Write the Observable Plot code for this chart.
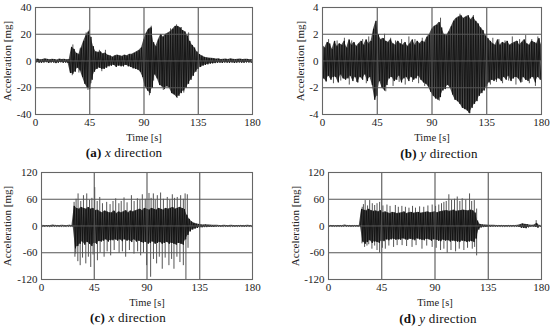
<!DOCTYPE html>
<html>
<head>
<meta charset="utf-8">
<script src="https://cdn.jsdelivr.net/npm/d3@7"></script>
<script src="https://cdn.jsdelivr.net/npm/@observablehq/plot@0.6"></script>
<style>
  html, body { margin: 0; padding: 0; background: #fff; }
  #wrap { position: relative; width: 550px; height: 328px; background: #fff; overflow: hidden; font-family: "Liberation Serif", serif; }
  .panel { position: absolute; width: 275px; height: 145px; }
  .cap { position: absolute; width: 200px; text-align: center; font-size: 13px; line-height: 16px; color: #111; letter-spacing: 0.2px; }
  svg [aria-label="x-axis label"] text, svg [aria-label="x-axis label"] { font-size: 10.5px; }
  svg [aria-label="y-axis label"] text, svg [aria-label="y-axis label"] { font-size: 11px; }
</style>
</head>
<body>
<div id="wrap"></div>
<script>
// ---- data (signed peak amplitudes at 1 s steps, 0..180 s) ----
const xTicks = [0, 45, 90, 135, 180];
const xGrid = [45, 90, 135];
const yTicksA = [-40, -20, 0, 20, 40];
const yTicksB = [-4, -2, 0, 2, 4];
const yTicksCD = [-120, -60, 0, 60, 120];

// (a) x direction
const aVals = [
  1.2,-1.0,1.5,-1.3,0.9,-1.4,1.1,-1.2,1.6,-0.9,
  1.3,-1.5,1.0,-1.2,1.4,-1.1,1.2,-1.6,0.8,-1.3,
  1.5,-1.0,1.1,-1.4,1.3,-1.2,1.0,-1.5,1.2,-9,
  10.5,-9.5,9,-8,6,-5,5,-7,10,-12,
  15,-17,19,-20,22,-21,18,-14,11,-8,
  7,-6,6.5,-5,7,-6,5.5,-6,6,-5,
  4.5,-4,4,-3.5,3,-3,4,-4.5,4.5,-3.5,
  4,-4,3.5,-4,4.5,-3,4,-4,5,-4.5,
  5,-5.5,6,-6,7,-6.5,8,-8,10,-12,
  16,-19,21,-22,24,-24,25,-20,14,-10,
  11,-13,16,-18,20,-19,18,-21,20,-19,
  21,-20,22,-24,24,-25,26,-27,26,-26,
  25,-24,23,-22,22,-20,19,-17,15,-14,
  12,-11,10,-8,7,-6,5,-4.5,4,-3.5,
  3,-3,2.5,-2.5,2.2,-2,2,-1.8,1.8,-1.6,
  1.5,-1.4,1.6,-1.3,1.2,-1.5,1.4,-1.2,1.5,-1.3,
  1.2,-1.4,1.6,-1.2,1.3,-1.5,1.1,-1.3,1.4,-1.2,
  1.5,-1.3,1.2,-1.4,1.3,-1.1,1.4,-1.2,1.0,-1.3,1.1
];
const aSpikeT = [31, 37, 42, 44.5, 53, 58, 93, 96, 104, 112, 117, 121, 127,
  30.5, 36, 43.5, 46, 55, 94.5, 98, 106, 114, 117.5, 123];
const aSpikeV = [12, 9, 21, 23, 8, 8, 23, 26, 18, 24, 27, 25, 21,
  -11, -9, -22, -17, -8, -26, -15, -22, -25, -28, -24];

// (b) y direction
const bVals = [
  1.2,-1.3,1.0,-1.5,1.4,-1.1,1.3,-1.4,0.9,-1.2,
  1.5,-1.2,1.1,-1.6,1.3,-1.0,1.2,-1.3,1.5,-1.4,
  1.0,-1.3,1.6,-1.1,1.2,-1.5,1.4,-1.2,1.1,-1.6,
  1.3,-1.2,1.5,-1.4,1.2,-1.0,1.6,-1.5,1.3,-1.2,
  1.5,-1.8,2.4,-2.9,3.0,-2.6,2.0,-1.5,1.6,-2.0,
  1.7,-2.2,1.5,-1.8,1.4,-1.3,1.6,-1.2,1.3,-1.5,
  1.2,-1.4,1.5,-1.1,1.3,-1.6,1.2,-1.3,1.4,-1.2,
  1.1,-1.5,1.3,-1.2,1.6,-1.4,1.2,-1.3,1.5,-1.1,
  1.3,-1.4,1.5,-1.6,1.4,-1.7,1.8,-1.9,2.0,-2.3,
  2.4,-2.6,2.6,-2.8,2.7,-2.9,2.9,-2.7,2.5,-2.2,
  2.0,-2.1,1.9,-1.8,2.2,-2.0,2.6,-2.5,3.0,-2.9,
  3.2,-3.0,3.3,-3.2,3.4,-3.5,3.2,-3.6,3.3,-3.7,
  3.4,-3.9,3.1,-3.5,3.3,-3.2,3.0,-3.0,2.8,-2.6,
  2.5,-2.4,2.3,-2.2,1.9,-1.9,1.7,-1.6,1.5,-1.4,
  1.3,-1.5,1.2,-1.4,1.6,-1.3,1.2,-1.5,1.4,-1.2,
  1.3,-1.4,1.5,-1.1,1.2,-1.5,1.3,-1.3,1.4,-1.2,
  1.5,-1.3,1.2,-1.6,1.4,-1.2,1.6,-1.4,1.3,-1.5,
  1.2,-1.3,1.5,-1.2,1.4,-1.6,1.3,-1.2,1.7,-1.4,1.2
];
const bSpikeT = [5,12,18,24,33,38,51,56,60,65,71,76,82,97,113,124,140,145,150,156,162,167,172,177,
  3,9,15,22,28,36,52,58,63,68,74,79,84,96,120,138,143,148,153,159,164,170,175];
const bSpikeV = [1.6,1.5,1.7,1.5,1.6,1.8,2.0,1.7,1.5,1.6,1.8,1.6,1.7,3.2,3.5,3.4,1.7,1.6,1.5,1.8,1.6,1.9,1.6,1.8,
  -1.6,-1.7,-1.5,-1.8,-1.6,-1.7,-2.3,-1.9,-1.6,-1.8,-1.6,-1.7,-1.9,-3.0,-3.9,-1.8,-1.6,-1.7,-1.5,-1.8,-1.6,-1.7,-1.9];

// (c) x direction: dense core + isolated spikes
const cCore = [
  1.5,-1.2,1.0,-1.4,1.3,-1.0,1.2,-1.5,1.1,-1.3,
  2.0,-1.2,1.4,-1.1,1.2,-1.4,1.0,-1.3,1.5,-1.2,
  1.1,-1.4,1.3,-1.2,1.5,-1.0,1.2,-1.4,45,-50,
  40,-45,38,-40,42,-35,40,-42,38,-36,
  42,-40,38,-45,40,-38,35,-40,36,-34,
  32,-35,30,-33,34,-30,32,-35,30,-32,
  30,-32,34,-30,28,-33,32,-30,30,-34,
  32,-30,35,-33,30,-32,34,-36,32,-30,
  34,-35,36,-33,38,-36,35,-38,40,-36,
  38,-40,36,-38,40,-35,38,-40,36,-38,
  40,-36,38,-40,36,-38,40,-36,38,-40,
  40,-38,42,-40,38,-42,40,-38,42,-40,
  40,-42,38,-30,25,-20,16,-12,10,-8,
  7,-6,5,-4.5,4,-3.5,3,-3,2.5,-2.5,
  3,-2.5,2.5,-2,2,-2,1.8,-2,1.6,-1.5,
  1.5,-1.3,1.4,-1.6,1.2,-1.4,1.5,-1.2,1.3,-1.5,
  1.2,-1.4,1.6,-1.2,1.3,-1.5,1.4,-1.2,1.1,-1.3,
  1.4,-1.2,1.3,-1.5,1.2,-1.4,1.5,-1.3,1.1,-1.2,1.3
];
const cSpikeT = [27.8,29.5,31.2,33.5,35.8,38.6,41,43,45.4,47.5,49.7,52,55.6,58.5,61,63.3,66,68,70.4,73,76.7,79,81.8,84,86,88.5,91.7,93.5,95.4,97,98.8,101.6,104,107.3,109.5,111.6,113.5,115.8,118.7,121,122.5,124.4,
  28.5,29.2,31,33,35,37.8,40,42,44,47.7,50,53.4,56,59,62,66.2,69,71.8,75,78.9,82,84.6,87,89.7,93.1,95.5,98.2,100.5,103,105.5,108.7,111,113,115.5,118.1,121,123.2,125];
const cSpikeV = [53,60,72,55,68,72,58,62,86,55,64,50,53,48,55,61,50,55,63,52,68,55,61,58,70,60,73,62,72,58,68,74,60,64,58,70,62,64,68,60,72,70,
  -70,-63,-80,-89,-72,-85,-70,-93,-65,-78,-60,-70,-58,-67,-55,-61,-58,-70,-55,-63,-58,-67,-60,-89,-115,-75,-85,-70,-97,-72,-89,-75,-97,-70,-82,-89,-120,-50];

// (d) y direction: dense core + isolated spikes
const dCore = [
  1.0,-0.8,1.2,-1.0,0.9,-1.1,0.8,-1.0,1.1,-0.9,
  1.0,-1.2,0.9,-0.8,2.0,-1.0,1.1,-0.9,1.0,-1.2,
  0.9,-1.0,1.2,-0.8,1.0,-1.1,0.9,-1.0,38,-35,
  36,-40,34,-36,38,-32,35,-38,33,-35,
  34,-36,32,-38,35,-33,30,-34,32,-30,
  30,-32,28,-30,31,-29,30,-31,28,-30,
  29,-31,30,-28,32,-30,28,-31,30,-29,
  31,-30,29,-32,30,-28,31,-30,29,-31,
  30,-32,31,-29,32,-30,30,-33,31,-30,
  32,-31,30,-33,32,-34,33,-31,34,-33,
  35,-32,33,-35,34,-33,36,-34,33,-35,
  34,-36,35,-33,36,-34,35,-36,34,-35,
  36,-34,35,-36,30,-28,12,-8,4,-3.5,
  3,-2.5,2.5,-2,2,-2.2,1.8,-1.5,1.6,-1.4,
  1.5,-1.3,1.2,-1.4,1.3,-1.1,1.2,-1.3,1.0,-1.2,
  1.1,-1.0,1.2,-1.3,1.0,-1.1,1.4,-1.2,1.0,-1.3,
  1.5,-2,3,-4,5,-4.5,4,-5,3.5,-3,
  2,-1.5,1.8,-1.4,2.5,-2,6,-4,1.5,-1.2,1.0
];
const dSpikeT = [28.5,29.5,31,33,34.8,37,39,41,43.2,46,49.4,52,56.5,59,62,65,68,71,73.5,77,80.5,84,87.6,90.5,93.2,95.5,97.5,99.5,101.7,104,106.5,108.8,111,113,116,119.2,121,123.2,125.2,175.5,
  28.3,30.5,32.5,34,36.7,39,41,43.2,45.5,48,51,55,58,62.2,66,70.6,74,79,83,87.6,91,94.7,97.5,100.3,103.5,107.4,110.5,114.4,117.5,121.5,123.5,125.2];
const dSpikeV = [42,48,57,45,57,50,46,50,53,45,47,44,46,42,44,42,40,44,40,43,42,45,47,44,47,50,53,55,70,58,60,65,55,61,58,72,55,57,38,12,
  -40,-48,-45,-42,-52,-45,-55,-61,-50,-52,-45,-48,-44,-44,-46,-48,-44,-52,-45,-48,-50,-55,-52,-61,-55,-58,-52,-55,-50,-52,-48,-67];

// ---- drawing ----
function panel({vals, spikeT, spikeV, yTicks, ml, mr, mt, mb, yLabOff, xLabOff}) {
  const series = vals.map((v, i) => ({t: i, v}));
  const upper = series.filter(d => d.v >= 0);
  const lower = series.filter(d => d.v < 0);
  const spikes = spikeT ? spikeT.map((t, i) => ({t, v: spikeV[i]})) : [];
  const yMax = yTicks[yTicks.length - 1];
  const marks = [];
  if (spikes.length) marks.push(Plot.ruleX(spikes, {x: "t", y1: 0, y2: "v", stroke: "#555", strokeWidth: 1}));
  marks.push(Plot.areaY(upper, {x: "t", y1: 0, y2: "v", fill: "#2e2e2e", fillOpacity: 0.85}));
  marks.push(Plot.areaY(lower, {x: "t", y1: 0, y2: "v", fill: "#2e2e2e", fillOpacity: 0.85}));
  marks.push(Plot.line(series, {x: "t", y: "v", stroke: "#111", strokeWidth: 0.9}));
  marks.push(Plot.ruleX(xGrid, {stroke: "#555", strokeWidth: 1.1}));
  marks.push(Plot.ruleY(yTicks.slice(1, -1), {stroke: "#555", strokeWidth: 1.1}));
  marks.push(Plot.frame({stroke: "#666", strokeWidth: 1.1}));
  return Plot.plot({
    width: 275, height: 145,
    marginLeft: ml, marginRight: mr, marginTop: mt, marginBottom: mb,
    style: {fontFamily: '"Liberation Serif", serif', fontSize: "11px", color: "#222", background: "transparent", overflow: "visible"},
    x: {domain: [0, 180], ticks: xTicks, tickSize: 0, tickPadding: 4, tickFormat: d => String(d),
        label: "Time [s]", labelAnchor: "center", labelArrow: "none", labelOffset: xLabOff},
    y: {domain: [-yMax, yMax], ticks: yTicks, tickSize: 0, tickPadding: 4, tickFormat: d => String(d),
        label: "Acceleration [mg]", labelAnchor: "center", labelArrow: "none", labelOffset: yLabOff},
    marks
  });
}

const wrap = document.getElementById("wrap");
const specs = [
  {left: 0, top: 0, vals: aVals, spikeT: aSpikeT, spikeV: aSpikeV, yTicks: yTicksA, ml: 35, mr: 23, mt: 7, mb: 31, yLabOff: 32, xLabOff: 26,
   cap: ["(a)", "x"], cx: 124, cy: 153},
  {left: 275, top: 0, vals: bVals, spikeT: bSpikeT, spikeV: bSpikeV, yTicks: yTicksB, ml: 47, mr: 9, mt: 7, mb: 31, yLabOff: 26, xLabOff: 26,
   cap: ["(b)", "y"], cx: 439, cy: 154},
  {left: 0, top: 164, vals: cCore, spikeT: cSpikeT, spikeV: cSpikeV, yTicks: yTicksCD, ml: 41, mr: 23, mt: 8, mb: 30, yLabOff: 38, xLabOff: 26,
   cap: ["(c)", "x"], cx: 128, cy: 318},
  {left: 275, top: 164, vals: dCore, spikeT: dSpikeT, spikeV: dSpikeV, yTicks: yTicksCD, ml: 53, mr: 9, mt: 8, mb: 30, yLabOff: 37, xLabOff: 26,
   cap: ["(d)", "y"], cx: 438, cy: 319}
];
for (const s of specs) {
  const div = document.createElement("div");
  div.className = "panel";
  div.style.left = s.left + "px";
  div.style.top = s.top + "px";
  div.appendChild(panel(s));
  wrap.appendChild(div);
  const cap = document.createElement("div");
  cap.className = "cap";
  cap.style.left = (s.cx - 100) + "px";
  cap.style.top = (s.cy - 8) + "px";
  const b = document.createElement("b"); b.textContent = s.cap[0];
  const i = document.createElement("i"); i.textContent = s.cap[1];
  cap.appendChild(b);
  cap.appendChild(document.createTextNode(" "));
  cap.appendChild(i);
  cap.appendChild(document.createTextNode(" direction"));
  wrap.appendChild(cap);
}
</script>
</body>
</html>
